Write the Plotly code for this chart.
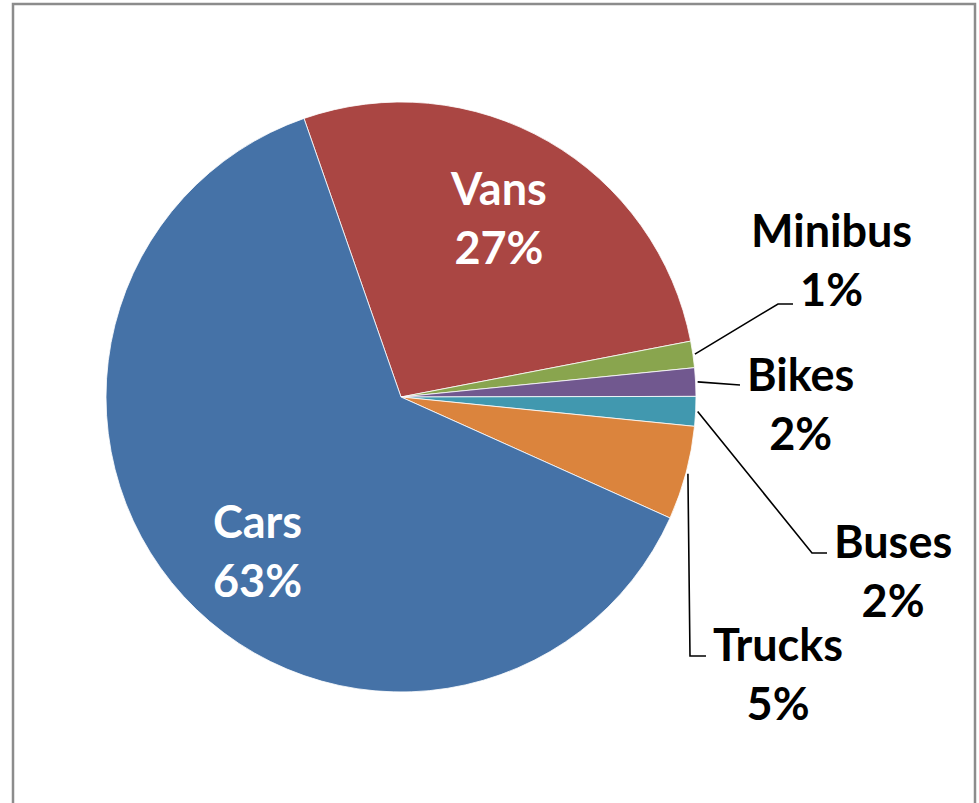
import numpy as np
import plotly.graph_objects as go

W, H = 979, 803

# slices in clockwise order starting at the Cars/Vans boundary
labels = ['Vans', 'Minibus', 'Bikes', 'Buses', 'Trucks', 'Cars']
shares = [27.3, 1.45, 1.55, 1.62, 5.14, 62.94]
colors = ['#AA4643', '#89A54E', '#71588F', '#4198AF', '#DB843D', '#4572A7']
start_angle = -19.2  # degrees clockwise from 12 o'clock

# pie placement in screen pixels
CX, CY, R = 401, 397, 295

# label centres (px) and leader-line bends (px) for the outside labels
label_pos = {
    'Vans': (498, 218), 'Cars': (257, 550),
    'Minibus': (831, 260), 'Bikes': (800, 403),
    'Buses': (893, 570), 'Trucks': (778, 673),
}
leader_pts = {
    'Minibus': [(778, 304), (793, 304)],
    'Bikes': [(740, 385)],
    'Buses': [(812, 553), (827, 553)],
    'Trucks': [(690, 656), (706, 656)],
}


def px(x, y):
    return x / W, 1 - y / H


fig = go.Figure(go.Pie(
    labels=labels,
    values=shares,
    sort=False,
    direction='clockwise',
    rotation=start_angle,
    marker=dict(colors=colors, line=dict(color='#FFFFFF', width=0.8)),
    textinfo='none',
    hoverinfo='label+percent',
    showlegend=False,
    domain=dict(x=[px(CX - R, 0)[0], px(CX + R, 0)[0]],
                y=[px(0, CY + R)[1], px(0, CY - R)[1]]),
))

total = sum(shares)
annotations = []
shapes = []
cum = 0.0
for name, v in zip(labels, shares):
    pct = round(v / total * 100)
    mid = np.radians(start_angle + (cum + v / 2) / total * 360)
    cum += v
    ax, ay = px(*label_pos[name])
    inside = name in ('Vans', 'Cars')
    annotations.append(dict(
        x=ax, y=ay, xref='paper', yref='paper', xanchor='center', yanchor='middle',
        text=f'{name}<br>{pct}%', showarrow=False,
        font=dict(family='Lato', size=45, weight='bold', color='white' if inside else 'black'),
    ))
    if name in leader_pts:
        sx, sy = CX + (R + 2) * np.sin(mid), CY - (R + 2) * np.cos(mid)
        pts = [(sx, sy)] + leader_pts[name]
        path = 'M ' + ' L '.join(f'{px(x, y)[0]:.5f},{px(x, y)[1]:.5f}' for x, y in pts)
        shapes.append(dict(type='path', xref='paper', yref='paper', path=path,
                           line=dict(color='black', width=1.6)))

# chart area border (bottom edge runs off the picture)
x0, y1 = px(13, 4)
x1, _ = px(975, 0)
shapes.append(dict(type='rect', xref='paper', yref='paper',
                   x0=x0, x1=x1, y0=-0.02, y1=y1,
                   line=dict(color='#8C8C8C', width=2.5)))

fig.update_layout(
    width=W, height=H,
    margin=dict(l=0, r=0, t=0, b=0),
    paper_bgcolor='white',
    plot_bgcolor='white',
    annotations=annotations,
    shapes=shapes,
)

# drop the default page margin so the figure sits at the window origin
fig.write_html("out.html", config={'displayModeBar': False},
               post_script="document.body.style.margin='0';document.body.style.overflow='hidden';")
